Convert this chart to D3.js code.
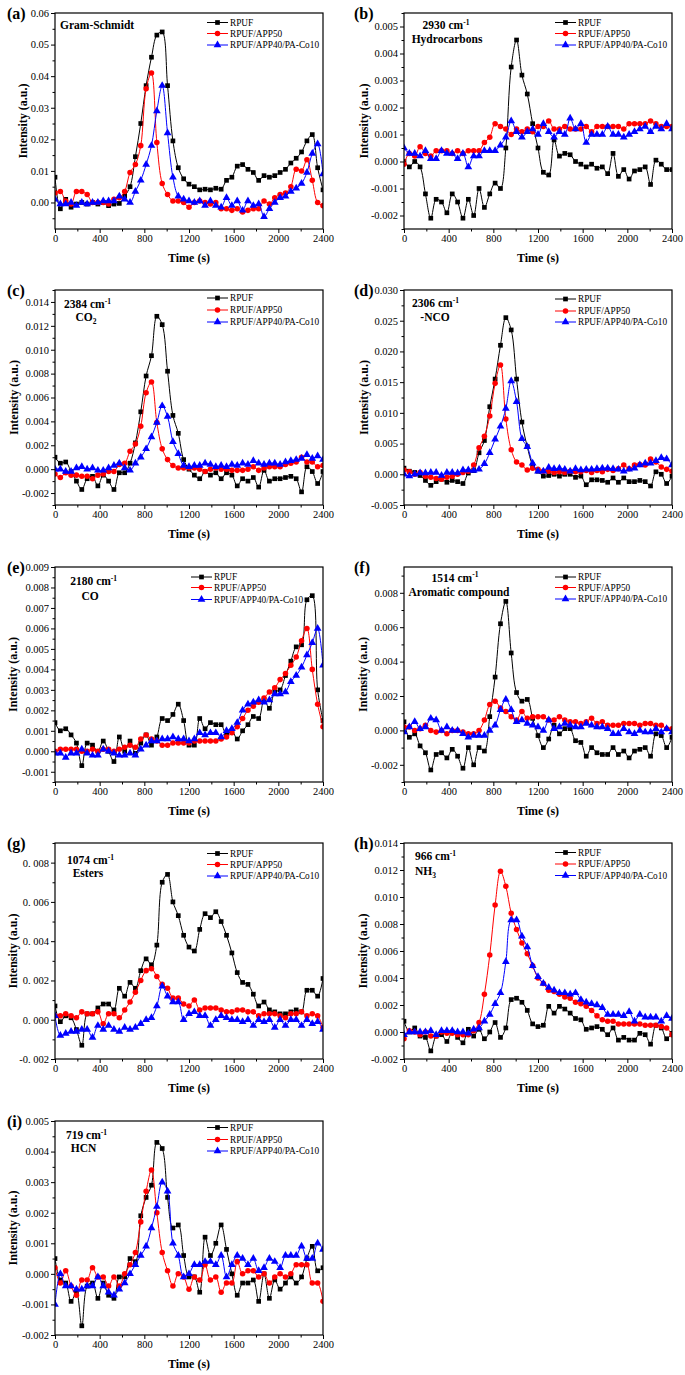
<!DOCTYPE html>
<html><head><meta charset="utf-8">
<script src="https://cdn.jsdelivr.net/npm/d3@7"></script>
<style>
body{margin:0;background:#fff}
svg{display:block}
text{font-family:"Liberation Serif","Times New Roman",serif;fill:#000}
</style>
</head><body>
<svg id="chart" width="685" height="1375"></svg>
<script>
// ---------------- DATA ----------------
const time = [0,48,96,144,192,240,288,336,384,432,480,528,576,624,672,720,768,816,864,912,960,1008,1056,1104,1152,1200,1248,1296,1344,1392,1440,1488,1536,1584,1632,1680,1728,1776,1824,1872,1920,1968,2016,2064,2112,2160,2208,2256,2304,2352,2400];
const seriesNames = ["RPUF","RPUF/APP50","RPUF/APP40/PA-Co10"];
const xTickLabels = ["0","400","800","1200","1600","2000","2400"];

// (a) Gram-Schmidt
const aRPUF = [0.008,-0.002,0.001,-0.0015,-0.0005,0,-0.0005,0,-0.0005,0,-0.001,-0.0005,-0.0003,0.002,0.005,0.0145,0.025,0.037,0.046,0.053,0.054,0.037,0.0195,0.011,0.0075,0.0058,0.005,0.004,0.0042,0.004,0.0045,0.0042,0.007,0.008,0.0115,0.012,0.0105,0.0095,0.007,0.0085,0.008,0.0085,0.0095,0.0105,0.0125,0.014,0.016,0.0195,0.0215,0.011,0.004];
const aAPP50 = [0.003,0.0035,0.0005,-0.0005,0.0035,0.0035,0.0025,0,0,0,-0.0005,0.001,0.0015,0.0035,0.0095,0.012,0.018,0.036,0.041,0.019,0.006,0.0025,0.0005,0.0005,0,-0.0015,0,0.0005,0,-0.0005,0,-0.002,-0.002,-0.0025,-0.002,-0.003,-0.0025,-0.002,-0.002,0.0005,-0.0005,0.0015,0.0025,0.003,0.005,0.0105,0.01,0.0135,0.007,0,-0.001];
const aPACo10 = [0.001,-0.0005,-0.0005,0,-0.001,0,-0.0005,0,0,0.0005,0.0005,0.0005,0.002,0.001,0,0.0035,0.007,0.012,0.018,0.029,0.037,0.022,0.008,0.002,0.001,0.0005,0,0.0005,-0.001,0.0005,-0.001,-0.0015,0.0015,-0.001,0.0005,-0.0025,0.0005,-0.001,-0.0005,-0.0045,-0.002,0,0.0015,0.002,0.0035,0.0045,0.006,0.0095,0.0155,0.0185,0.009];
const aTicks = ["0.00","0.01","0.02","0.03","0.04","0.05","0.06"];

// (b) 2930 cm-1 Hydrocarbons
const bRPUF = [0,-0.0002,0,-0.0002,-0.0012,-0.0021,-0.0014,-0.0015,-0.0019,-0.0012,-0.0015,-0.0021,-0.0014,-0.002,-0.001,-0.0017,-0.0012,-0.0008,-0.001,0.0005,0.0035,0.0045,0.0032,0.0025,0.0014,0.0005,-0.0004,-0.0005,0.0008,0.0002,0.0003,0.00025,0,-0.0001,-0.0002,-0.0001,-0.00025,-0.0002,-0.00045,0.0003,-0.00055,-0.0003,-0.00065,-0.00035,-0.0003,-0.0002,-0.00085,0.00005,-0.0001,-0.0003,-0.0003];
const bAPP50 = [-0.0001,0.0003,0.0002,0.00055,0.0003,0.0002,0.0004,0.0004,0.0004,0.0003,0.0004,0.0003,0.0004,0.0004,0.0004,0.0007,0.0009,0.0014,0.0013,0.0012,0.001,0.0012,0.0011,0.0012,0.0011,0.0013,0.0013,0.0015,0.0012,0.0012,0.0013,0.0012,0.0012,0.0012,0.0013,0.0011,0.0013,0.0013,0.0013,0.0013,0.0013,0.0012,0.0014,0.0014,0.0014,0.0014,0.0015,0.0014,0.0013,0.0013,0.0013];
const bPACo10 = [0.0005,0.0003,0.0003,0.0002,0.0004,0.0001,0.0001,0.0004,0.0003,0.0003,0.0001,0.0003,-0.0002,0.0002,0.0002,0.0004,0.0004,0.0004,0.0006,0.0009,0.0015,0.0011,0.0009,0.0011,0.0012,0.001,0.0014,0.0011,0.0009,0.0011,0.001,0.0016,0.0012,0.0014,0.0007,0.001,0.001,0.001,0.0013,0.001,0.001,0.0009,0.001,0.0011,0.0012,0.0013,0.0011,0.0013,0.0012,0.0014,0.0012];
const bTicks = ["-0.002","-0.001","0.000","0.001","0.002","0.003","0.004","0.005"];

// (c) 2384 cm-1 CO2
const cRPUF = [0.001,0.0005,0.0006,-0.0002,-0.001,-0.0017,-0.0008,-0.0006,-0.0014,-0.0005,-0.001,-0.0017,-0.0003,-0.0003,0.0005,0.0022,0.0048,0.0078,0.0095,0.0128,0.0121,0.0082,0.0045,0.003,0.0008,0,-0.0005,-0.0008,-0.0002,-0.0005,-0.0003,-0.0008,-0.0003,-0.0005,-0.0014,-0.0008,-0.001,-0.0007,-0.0015,-0.0001,-0.001,-0.0008,-0.0008,-0.0007,-0.0006,-0.0008,-0.0019,0.0002,-0.0002,-0.0012,-0.0002];
const cAPP50 = [-0.0004,-0.0007,-0.0003,-0.0005,-0.0005,-0.0006,-0.0006,-0.0008,-0.0005,-0.0004,-0.0002,-0.0002,0.0004,0.0005,0.0015,0.0021,0.0036,0.0064,0.0073,0.0039,0.0017,0.0008,0.0003,0.0001,0.0001,0.0001,0.0001,0,-0.0002,0,0.0001,0,0,-0.0001,-0.0001,-0.0001,0,0.0002,-0.0001,0.0001,0.0002,0.0002,0.0002,0.0004,0.0005,0.0006,0.001,0.0006,0.0006,0.0002,0.0003];
const cPACo10 = [0,0,-0.0002,-0.0002,0.0001,0.0002,0,0.0001,-0.0001,-0.0001,0.0001,0.0003,0.0005,0.0001,-0.0001,0.0005,0.001,0.0017,0.0027,0.0039,0.0053,0.0044,0.0023,0.0013,0.0003,0.0002,0.0003,0.0003,0.0005,0.0004,0.0002,0.0003,0.0002,0.0004,0.0003,0.0005,0.0004,0.0007,0.0005,0.0004,0.0005,0.0005,0.0004,0.0006,0.0007,0.0008,0.0009,0.0012,0.0009,0.0011,0.0008];
const cTicks = ["-0.002","0.000","0.002","0.004","0.006","0.008","0.010","0.012","0.014"];

// (d) 2306 cm-1 -NCO
const dRPUF = [0.001,0.0005,0.0003,-0.0002,-0.001,-0.0018,-0.0012,-0.0008,-0.0013,-0.001,-0.0012,-0.0015,0.0002,0.0006,0.0035,0.0055,0.011,0.0155,0.021,0.0255,0.0235,0.0155,0.0085,0.0045,0.0015,0.0005,-0.0003,-0.0002,0,-0.0003,0,0,-0.0005,-0.0003,-0.0017,-0.0009,-0.0009,-0.001,-0.0013,-0.0006,-0.0013,-0.0006,-0.0012,-0.0012,-0.001,-0.0012,-0.0019,0.0004,0,-0.0015,-0.0003];
const dAPP50 = [0.0007,0.0004,0,0.0003,-0.0003,-0.0005,-0.0007,-0.0008,-0.0005,-0.0003,0,0.0003,0.0005,0.0015,0.0043,0.0062,0.0095,0.0148,0.0178,0.009,0.004,0.002,0.0015,0.0007,0.001,0.0008,0.0005,0.0005,0.0003,0.0004,0.0003,0.0005,0.0004,0.0004,0.0006,0.0003,0.0006,0.0004,0.0008,0.0006,0.0009,0.0015,0.0009,0.0015,0.0016,0.0015,0.0025,0.002,0.0012,0.0008,0.0005];
const dPACo10 = [0,-0.0003,0,0.0002,0.0002,0.0003,0.0003,-0.0002,0.0003,0.0003,0.0002,0.0007,0.0007,0.0006,0.0008,0.0017,0.0035,0.0057,0.0078,0.0107,0.0152,0.0118,0.0058,0.0045,0.0018,0.0005,0.0005,0.0011,0.0009,0.001,0.0008,0.0005,0.0009,0.0007,0.0008,0.0008,0.0009,0.001,0.001,0.0009,0.0008,0.0005,0.0008,0.001,0.0015,0.0018,0.0018,0.0022,0.0027,0.0025,0.0015];
const dTicks = ["-0.005","0.000","0.005","0.010","0.015","0.020","0.025","0.030"];

// (e) 2180 cm-1 CO
const eRPUF = [0.0014,0.001,0.0011,0.0008,0.0004,-0.0007,0.0004,0.0003,0,0.0005,0,-0.0005,0.0007,0,0.0005,-0.0001,0.0004,0.0008,0.0003,0.0007,0.0016,0.0015,0.0018,0.0023,0.0015,0.0003,0.0003,0.0016,0.0011,0.0014,0.0013,0.0013,0.0008,0.001,0.0006,0.001,0.0013,0.0017,0.0016,0.0025,0.0021,0.0029,0.003,0.0037,0.0044,0.0051,0.0052,0.0074,0.0076,0.003,0.0015];
const eAPP50 = [0,0.0001,0.0001,0.0001,0.0001,0,0,0.0001,0,0.0001,0.0001,0,0.0001,0.0002,0.0003,0.0002,0.0006,0.0008,0.0006,0.0005,0.0003,0.0003,0.0004,0.0004,0.0004,0.0004,0.0005,0.0005,0.0005,0.0005,0.0005,0.0006,0.0007,0.0009,0.0012,0.0016,0.002,0.0022,0.0024,0.0026,0.0029,0.0031,0.0035,0.0038,0.0042,0.0046,0.0054,0.006,0.004,0.0023,0.0012];
const ePACo10 = [-0.0001,-0.0001,-0.0003,-0.0001,-0.0001,0.0001,-0.0001,-0.0002,-0.0002,0.0001,0,-0.0001,-0.0002,-0.0002,-0.0001,-0.0002,0.0001,0.0003,0.0005,0.0005,0.0006,0.0006,0.0007,0.0006,0.0006,0.0005,0.0006,0.0009,0.0008,0.0009,0.0009,0.0007,0.001,0.0011,0.0014,0.002,0.0023,0.0024,0.0025,0.0024,0.0025,0.0028,0.0028,0.0029,0.0034,0.0037,0.0041,0.0047,0.0053,0.006,0.0042];
const eTicks = ["-0.001","0.000","0.001","0.002","0.003","0.004","0.005","0.006","0.007","0.008","0.009"];

// (f) 1514 cm-1 Aromatic compound
const fRPUF = [0.0005,-0.0004,-0.0002,-0.0009,-0.0013,-0.0023,-0.0014,-0.0013,-0.0016,-0.0011,-0.0015,-0.0022,-0.001,-0.002,-0.001,-0.0012,0.0008,0.0031,0.0062,0.0075,0.0045,0.0022,0.0017,0.0018,0.0007,-0.0003,-0.001,-0.0005,0.0003,-0.0002,0.0001,0.0001,-0.0006,-0.0007,-0.0015,-0.001,-0.0013,-0.0014,-0.0014,-0.001,-0.0014,-0.0012,-0.0016,-0.0012,-0.0011,-0.001,-0.0015,-0.0002,-0.0003,-0.001,-0.0004];
const fAPP50 = [0.0002,0.0002,0,0.0001,0.0003,0,-0.0001,0,-0.0002,0,0,-0.0001,-0.0002,-0.0002,0,0.0006,0.0015,0.0017,0.0013,0.0011,0.0008,0.0006,0.0011,0.0007,0.0008,0.0008,0.0008,0.0006,0.0006,0.0008,0.0006,0.0005,0.0005,0.0004,0.0005,0.0007,0.0004,0.0005,0.0003,0.0003,0.0003,0.0004,0.0004,0.0004,0.0003,0.0004,0.0004,0.0003,0.0003,0.0001,0.0001];
const fPACo10 = [-0.0001,0.0002,0.0005,0.0001,0.0002,0.0007,0.0006,0,0.0002,0,0,-0.0002,-0.0004,-0.0003,-0.0003,-0.0003,0,0.0003,0.0012,0.0018,0.0012,0.0005,0.0006,0.0004,0.0003,0.0002,0,0.0006,0.0001,0.0002,0.0004,0.0003,0.0002,0.0002,0.0004,0.0003,0.0002,0.0002,0.0001,-0.0002,-0.0002,0.0001,-0.0001,-0.0002,0,-0.0001,-0.0001,0.0001,-0.0001,0.0001,-0.0001];
const fTicks = ["-0.002","0.000","0.002","0.004","0.006","0.008"];

// (g) 1074 cm-1 Esters
const gRPUF = [0.0007,-0.0001,0.0002,0.0001,-0.0005,-0.0013,0.0003,0.0003,0.0006,0.0008,0.0008,0.0005,0.0016,0.0012,0.0019,0.0016,0.0025,0.0031,0.0028,0.0038,0.007,0.0074,0.006,0.0053,0.0043,0.0037,0.0035,0.0046,0.0054,0.0052,0.0055,0.005,0.0043,0.0034,0.0024,0.0019,0.0018,0.0013,0.0007,0.0009,0.0005,0.0004,0.0003,0.0003,0.0004,0.0005,0.0004,0.0015,0.0015,0.0012,0.0021];
const gAPP50 = [0.0002,0.0002,0.0003,0.0002,0.0001,0.0004,0.0003,0.0003,0.0004,-0.0002,0.0003,0.0003,0.0001,0.0005,0.0009,0.0014,0.002,0.0025,0.0026,0.0022,0.0018,0.0016,0.0011,0.0011,0.0008,0.0007,0.001,0.0005,0.0006,0.0006,0.0006,0.0005,0.0004,0.0004,0.0005,0.0005,0.0004,0.0004,0.0002,0.0003,0.0003,0.0003,0.0002,0.0001,0.0003,0.0003,0.0004,0.0002,0.0003,0.0002,-0.0004];
const gPACo10 = [0.0002,-0.0008,-0.0007,-0.0006,-0.0006,-0.0005,-0.0005,-0.0009,-0.0003,-0.0005,-0.0003,-0.0005,-0.0006,-0.0004,-0.0005,-0.0004,-0.0002,0,0.0001,0.0007,0.0017,0.0012,0.0009,0.0009,0,0.0003,0.0004,0.0002,0.0002,-0.0003,0,0.0002,0.0001,0,0,-0.0001,0,-0.0003,0,-0.0001,0,-0.0004,0,-0.0003,0,0,-0.0003,0,-0.0002,-0.0001,-0.0005];
const gTicks = ["-0. 002","0. 000","0. 002","0. 004","0. 006","0. 008"];

// (h) 966 cm-1 NH3
const hRPUF = [0.0008,0,0.0003,-0.0003,-0.0004,-0.0014,-0.0003,-0.0002,-0.0007,0,-0.0004,-0.0008,0.0002,-0.0003,0.0002,-0.0005,0,0.0007,-0.0004,0.0003,0.0024,0.0025,0.0022,0.0016,0.0006,0.0004,0.0005,0.0019,0.0014,0.0019,0.0017,0.0014,0.001,0.0009,0.0002,0.0003,0.0004,0.0002,-0.0002,0.0003,-0.0006,-0.0004,-0.0006,-0.0006,-0.0001,-0.0002,-0.0009,0.0005,0.0003,-0.0005,-0.0001];
const hAPP50 = [-0.0005,0.0001,0,-0.0002,0,-0.0003,-0.0003,0,-0.0001,-0.0001,-0.0002,-0.0002,-0.0002,0.0001,0.0007,0.0028,0.0057,0.0094,0.0119,0.0108,0.0088,0.0076,0.0066,0.0058,0.0049,0.004,0.0036,0.0031,0.003,0.0028,0.0026,0.0025,0.0022,0.0021,0.0019,0.0016,0.0012,0.0009,0.0008,0.0008,0.0006,0.0006,0.0006,0.0006,0.0006,0.0005,0.0005,0.0005,0.0004,0.0003,-0.0002];
const hPACo10 = [-0.0002,0,0,0,0,0.0001,-0.0002,0.0001,0.0001,0.0001,0,0,-0.0001,0.0002,0.0003,0.0008,0.0013,0.0021,0.0029,0.0052,0.0083,0.0083,0.0071,0.0063,0.0049,0.0041,0.0036,0.0033,0.0031,0.0029,0.0029,0.0028,0.0029,0.0024,0.0022,0.0021,0.002,0.0018,0.0013,0.0013,0.0013,0.0012,0.0015,0.0008,0.0013,0.0011,0.0011,0.0011,0.0008,0.0012,0.001];
const hTicks = ["-0.002","0.000","0.002","0.004","0.006","0.008","0.010","0.012","0.014"];

// (i) 719 cm-1 HCN
const iRPUF = [0.0005,-0.0002,-0.0003,-0.0009,-0.0006,-0.0017,-0.0004,-0.0003,-0.0008,-0.0003,-0.0007,-0.0008,-0.0001,-0.0001,0.0005,0.0004,0.0019,0.0025,0.0029,0.0043,0.0041,0.0025,0.0015,0.0016,0.0006,-0.0001,-0.0001,-0.0006,0.0012,0.0006,0.001,0.0016,0.0008,0,-0.0007,-0.0003,-0.0003,-0.0002,-0.0009,0,-0.0008,-0.0002,-0.0005,-0.0003,-0.0001,-0.0003,-0.0001,0.0005,0.0009,0.0001,0.0002];
const iAPP50 = [0.0002,-0.0003,0.0001,-0.0004,-0.0007,-0.0002,-0.0002,0.0002,-0.0001,-0.0001,-0.0004,-0.0001,-0.0004,0,0.0003,0.0007,0.0017,0.0027,0.0034,0.002,0.0007,0.0001,-0.0004,0,-0.0001,-0.0005,-0.0001,-0.0002,0.0003,-0.0002,-0.0001,-0.0006,-0.0003,-0.0003,0.0004,0,0.0001,0.0001,-0.0001,0,-0.0003,-0.0001,0,-0.0001,0,0.0003,0.0003,0.0003,-0.0003,-0.0003,-0.0009];
const iPACo10 = [-0.001,0,-0.0004,-0.0004,-0.0005,-0.0005,-0.0004,-0.0004,-0.0001,-0.0004,-0.0006,-0.0007,-0.0005,-0.0003,0,0.0003,0.0006,0.0009,0.0015,0.0022,0.003,0.0027,0.001,0.0006,-0.0001,0,0.0003,0.0003,0.0004,0.0004,0.0003,0.0006,-0.0001,0.0003,0.0006,0.0005,0.0003,0.0005,0.0001,0.0002,0.0005,0.0004,0.0002,0.0006,0.0006,0.0006,0.0009,0.0005,0.0005,0.001,0.0008];
const iTicks = ["-0.002","-0.001","0.000","0.001","0.002","0.003","0.004","0.005"];

// ---------------- LAYOUT ----------------
const colors = ["#000000","#ff0000","#0000ff"];
const cols = [{x0:55,x1:323},{x0:404,x1:672}];
const rows = [[13,229],[290,505],[567,782],[843,1059],[1121,1335]];
const FONT = '"Liberation Serif","Times New Roman",serif';

const panels = [
 {lab:"(a)",c:0,r:0,dom:[-0.0084,0.06],ticks:aTicks,data:[aRPUF,aAPP50,aPACo10],yt:32,
  notes:[{t:[["Gram-Schmidt"]],dx:5,dy:16,anchor:"start"}],leg:{x:152,dy:[9.5,20.5,32]}},
 {lab:"(b)",c:1,r:0,dom:[-0.0025,0.0055],ticks:bTicks,data:[bRPUF,bAPP50,bPACo10],yt:40,
  notes:[{t:[["2930 cm"],["-1","sup"]],dx:42,dy:16},{t:[["Hydrocarbons"]],dx:43,dy:30}],leg:{x:151,dy:[9.5,20.5,32]}},
 {lab:"(c)",c:0,r:1,dom:[-0.003,0.015],ticks:cTicks,data:[cRPUF,cAPP50,cPACo10],yt:41,
  notes:[{t:[["2384 cm"],["-1","sup"]],dx:32.5,dy:18},{t:[["CO"],["2","sub"]],dx:31,dy:31}],leg:{x:152,dy:[8,20,32]}},
 {lab:"(d)",c:1,r:1,dom:[-0.005,0.03],ticks:dTicks,data:[dRPUF,dAPP50,dPACo10],yt:40,
  notes:[{t:[["2306 cm"],["-1","sup"]],dx:31.5,dy:17},{t:[["-NCO"]],dx:31,dy:30.5}],leg:{x:151,dy:[9,21,32]}},
 {lab:"(e)",c:0,r:2,dom:[-0.0015,0.009],ticks:eTicks,data:[eRPUF,eAPP50,ePACo10],yt:42,
  notes:[{t:[["2180 cm"],["-1","sup"]],dx:38.7,dy:18.4},{t:[["CO"]],dx:35,dy:33}],leg:{x:136,dy:[10,20.5,32.5]}},
 {lab:"(f)",c:1,r:2,dom:[-0.003,0.0095],ticks:fTicks,data:[fRPUF,fAPP50,fPACo10],yt:41,
  notes:[{t:[["1514 cm"],["-1","sup"]],dx:51,dy:14.7},{t:[["Aromatic compound"]],dx:55,dy:29}],leg:{x:151,dy:[10,20.5,32]}},
 {lab:"(g)",c:0,r:3,dom:[-0.002,0.009],ticks:gTicks,data:[gRPUF,gAPP50,gPACo10],yt:42,
  notes:[{t:[["1074 cm"],["-1","sup"]],dx:35.5,dy:21.3},{t:[["Esters"]],dx:33,dy:34}],leg:{x:152,dy:[10.5,21.5,33]}},
 {lab:"(h)",c:1,r:3,dom:[-0.002,0.014],ticks:hTicks,data:[hRPUF,hAPP50,hPACo10],yt:41,
  notes:[{t:[["966 cm"],["-1","sup"]],dx:31.5,dy:17.4},{t:[["NH"],["3","sub"]],dx:21.5,dy:32}],leg:{x:151,dy:[9.5,21,32.5]}},
 {lab:"(i)",c:0,r:4,dom:[-0.002,0.005],ticks:iTicks,data:[iRPUF,iAPP50,iPACo10],yt:42,
  notes:[{t:[["719 cm"],["-1","sup"]],dx:31.5,dy:18},{t:[["HCN"]],dx:28.5,dy:30.7}],leg:{x:152,dy:[6.5,18.5,30]}}
];

const svg = d3.select("#chart");
const sym = [d3.symbolSquare, d3.symbolCircle, d3.symbolTriangle];
const symSize = [22, 24, 26];

function marker(g, k, x, y) {
  g.append("path")
    .attr("d", d3.symbol().type(sym[k]).size(symSize[k])())
    .attr("transform", `translate(${x},${y})`)
    .attr("fill", colors[k]).attr("stroke", "none");
}

const xTickVals = xTickLabels.map(Number);
const xMinor = xTickVals.slice(0,-1).map((v,i)=> (v + xTickVals[i+1]) / 2);

panels.forEach((p, pi) => {
  const left = cols[p.c].x0, right = cols[p.c].x1;
  const top = rows[p.r][0], bottom = rows[p.r][1];
  const x = d3.scaleLinear().domain([0, 2400]).range([left, right]);
  const y = d3.scaleLinear().domain(p.dom).range([bottom, top]);
  const g = svg.append("g");

  const cid = "clip" + pi;
  svg.append("clipPath").attr("id", cid).append("rect")
    .attr("x", left).attr("y", top).attr("width", right-left).attr("height", bottom-top);

  const line = d3.line().x((d,i)=>x(time[i])).y(d=>y(d)).curve(d3.curveCatmullRom.alpha(0.5));
  const sg = g.append("g").attr("clip-path", `url(#${cid})`);
  p.data.forEach((arr, k) => {
    sg.append("path").attr("d", line(arr)).attr("fill","none")
      .attr("stroke", colors[k]).attr("stroke-width", 1);
    arr.forEach((v,i) => marker(sg, k, x(time[i]), y(v)));
  });

  const tv = p.ticks.map(s => +s.replace(/\s/g,""));
  const step = tv[1]-tv[0];
  const yMinor = [];
  for (let v = tv[0] - step/2; v <= p.dom[1] + 1e-12; v += step/2) {
    if (v >= p.dom[0] - 1e-12 && !tv.some(t => Math.abs(t - v) < step/10)) yMinor.push(v);
  }
  const yAx = g.append("g").attr("transform", `translate(${left},0)`)
    .call(d3.axisLeft(y).tickValues(tv).tickFormat((d,i)=>p.ticks[i]).tickSize(4).tickPadding(2).tickSizeOuter(0));
  yAx.select(".domain").remove();
  yAx.selectAll("text").attr("font-family", FONT).attr("font-size", 10.5).attr("fill","#000");
  yAx.selectAll("line").attr("stroke","#000").attr("stroke-width",1);
  const yAxm = g.append("g").attr("transform", `translate(${left},0)`)
    .call(d3.axisLeft(y).tickValues(yMinor).tickFormat("").tickSize(2.5).tickSizeOuter(0));
  yAxm.select(".domain").remove();
  yAxm.selectAll("line").attr("stroke","#000");

  const xAx = g.append("g").attr("transform", `translate(0,${bottom})`)
    .call(d3.axisBottom(x).tickValues(xTickVals).tickFormat((d,i)=>xTickLabels[i]).tickSize(4).tickPadding(2).tickSizeOuter(0));
  xAx.select(".domain").remove();
  xAx.selectAll("text").attr("font-family", FONT).attr("font-size", 10.5).attr("fill","#000");
  xAx.selectAll("line").attr("stroke","#000");
  const xAxm = g.append("g").attr("transform", `translate(0,${bottom})`)
    .call(d3.axisBottom(x).tickValues(xMinor).tickFormat("").tickSize(2.5).tickSizeOuter(0));
  xAxm.select(".domain").remove();
  xAxm.selectAll("line").attr("stroke","#000");

  g.append("rect").attr("x", left).attr("y", top).attr("width", right-left).attr("height", bottom-top)
    .attr("fill","none").attr("stroke","#000").attr("stroke-width",1.2);

  g.append("text").attr("x", (left+right)/2).attr("y", bottom+33).attr("text-anchor","middle")
    .attr("font-size",12).attr("font-weight","bold").text("Time (s)");
  g.append("text").attr("transform", `translate(${left - p.yt},${(top+bottom)/2}) rotate(-90)`)
    .attr("text-anchor","middle").attr("dy","0.35em")
    .attr("font-size",12).attr("font-weight","bold").text("Intensity (a.u.)");

  g.append("text").attr("x", left - (p.c===0?48:50)).attr("y", top+5.5)
    .attr("font-size",16).attr("font-weight","bold").text(p.lab);

  p.notes.forEach(n => {
    const t = g.append("text").attr("x", left + n.dx).attr("y", top + n.dy)
      .attr("text-anchor", n.anchor || "middle").attr("font-size", 11.5).attr("font-weight","bold");
    n.t.forEach(seg => {
      const ts = t.append("tspan").text(seg[0]);
      if (seg[1] === "sup") ts.attr("font-size", 7.5).attr("dy", -4.5);
      if (seg[1] === "sub") ts.attr("font-size", 7.5).attr("dy", 3);
    });
  });

  seriesNames.forEach((nm, k) => {
    const ly = top + p.leg.dy[k];
    const lx = left + p.leg.x;
    g.append("line").attr("x1", lx).attr("x2", lx+21).attr("y1", ly).attr("y2", ly)
      .attr("stroke", colors[k]).attr("stroke-width", 1);
    marker(g, k, lx+10.5, ly);
    g.append("text").attr("x", lx+23).attr("y", ly).attr("dy","0.33em")
      .attr("font-size", 9.3).text(nm);
  });
});
</script>
</body></html>
